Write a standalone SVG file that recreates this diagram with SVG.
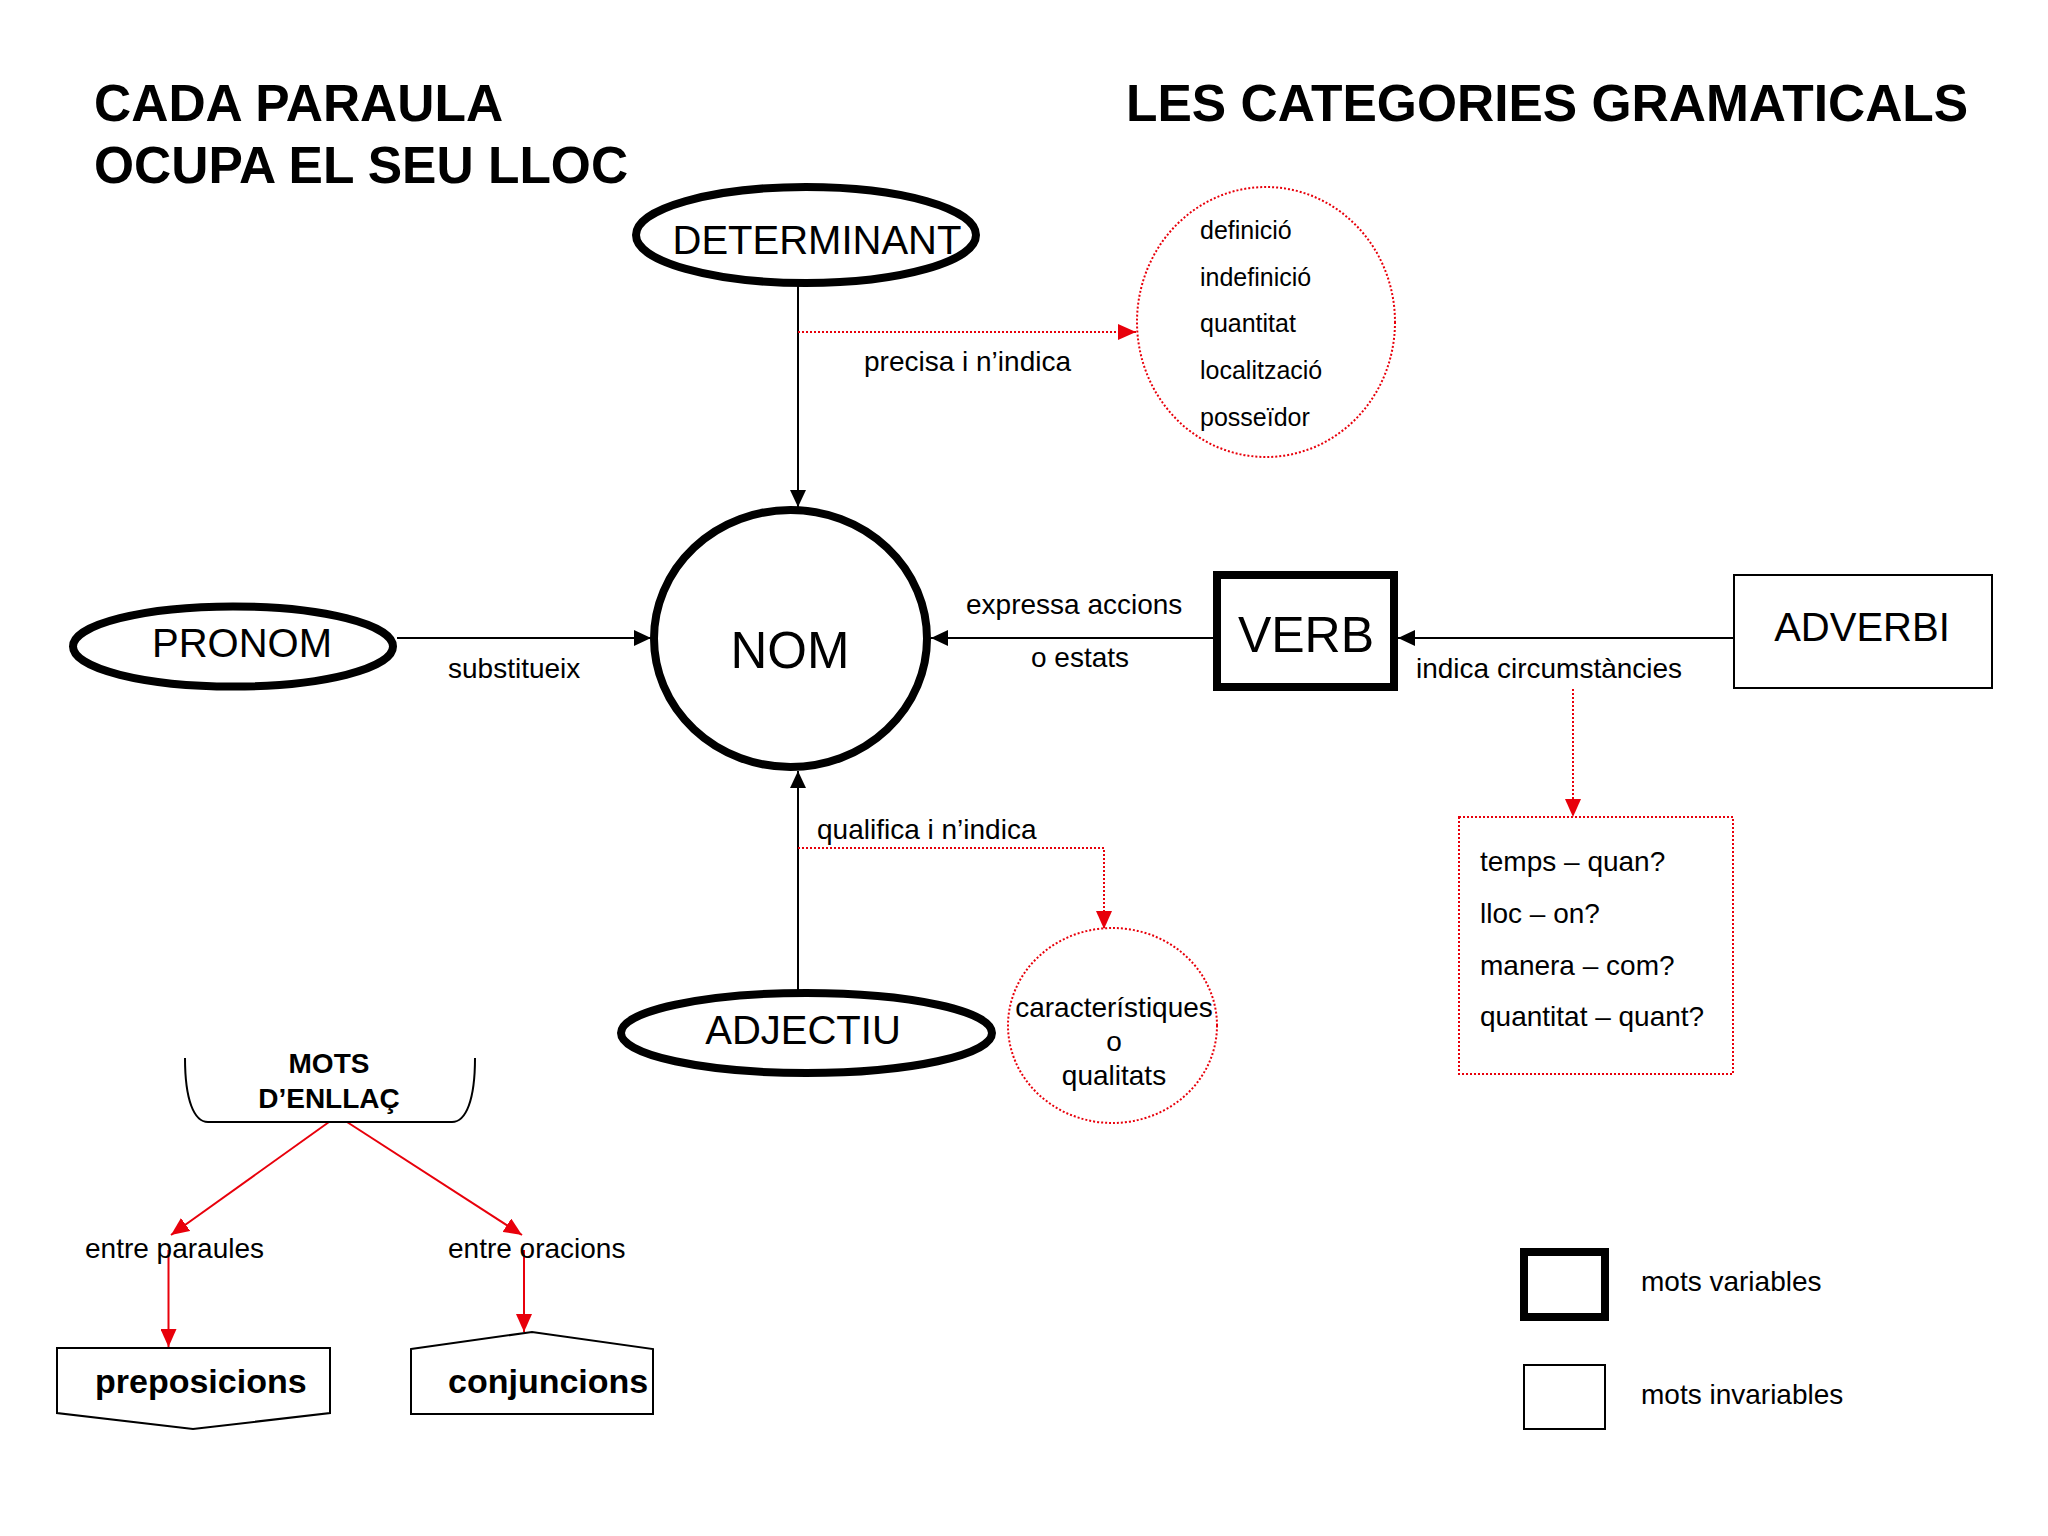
<svg xmlns="http://www.w3.org/2000/svg" width="2048" height="1536" viewBox="0 0 2048 1536">
<style>
text{font-family:"Liberation Sans",Arial,sans-serif;fill:#000}
.title{font-size:51.5px;font-weight:bold}
.node{font-size:40px}
.lbl{font-size:28px}
.lst{font-size:25px}
.bold{font-weight:bold}
.thick{fill:#fff;stroke:#000;stroke-width:8}
.thin{fill:#fff;stroke:#000;stroke-width:2}
.conn{fill:none;stroke:#000;stroke-width:2}
.red{fill:none;stroke:#e8000b;stroke-width:2}
.dot{stroke-dasharray:2 2}
</style>
<defs>
<marker id="ab" markerUnits="userSpaceOnUse" markerWidth="18" markerHeight="16" refX="17" refY="8" orient="auto"><path d="M0,0 L17,8 L0,16 Z" fill="#000"/></marker>
<marker id="ar" markerUnits="userSpaceOnUse" markerWidth="19" markerHeight="16" refX="18" refY="8" orient="auto"><path d="M0,0 L18,8 L0,16 Z" fill="#e8000b"/></marker>
</defs>
<rect width="2048" height="1536" fill="#fff"/>

<g id="titles">
<text class="title" x="94" y="121">CADA PARAULA</text>
<text class="title" x="94" y="183">OCUPA EL SEU LLOC</text>
<text class="title" x="1126" y="121">LES CATEGORIES GRAMATICALS</text>
</g>

<g id="connectors">
<line class="conn" x1="798" y1="283" x2="798" y2="507" marker-end="url(#ab)"/>
<line class="conn" x1="397" y1="638" x2="651" y2="638" marker-end="url(#ab)"/>
<line class="conn" x1="1213" y1="638" x2="931" y2="638" marker-end="url(#ab)"/>
<line class="conn" x1="1734" y1="638" x2="1398" y2="638" marker-end="url(#ab)"/>
<line class="conn" x1="798" y1="991" x2="798" y2="771" marker-end="url(#ab)"/>
<polyline class="red dot" points="798,332 1136,332" marker-end="url(#ar)"/>
<polyline class="red dot" points="798,848 1104,848 1104,929" marker-end="url(#ar)"/>
<polyline class="red dot" points="1573,689 1573,817" marker-end="url(#ar)"/>
<line class="red" x1="329" y1="1122" x2="171" y2="1235" marker-end="url(#ar)"/>
<line class="red" x1="347" y1="1122" x2="522" y2="1235" marker-end="url(#ar)"/>
<line class="red" x1="168.5" y1="1250" x2="168.5" y2="1347" marker-end="url(#ar)"/>
<line class="red" x1="524" y1="1250" x2="524" y2="1332" marker-end="url(#ar)"/>
<text class="lbl" x="864" y="371">precisa i n’indica</text>
<text class="lbl" x="448" y="678">substitueix</text>
<text class="lbl" x="966" y="614">expressa accions</text>
<text class="lbl" x="1031" y="667">o estats</text>
<text class="lbl" x="1416" y="678">indica circumstàncies</text>
<text class="lbl" x="817" y="839">qualifica i n’indica</text>
<text class="lbl" x="85" y="1258">entre paraules</text>
<text class="lbl" x="448" y="1258">entre oracions</text>
</g>

<g id="determinant">
<ellipse class="thick" cx="806" cy="235" rx="170" ry="48"/>
<text class="node" x="817" y="254" text-anchor="middle">DETERMINANT</text>
</g>

<g id="determinant-list">
<ellipse class="red dot" cx="1266" cy="322" rx="129" ry="135"/>
<text class="lst" x="1200" y="239">definició</text>
<text class="lst" x="1200" y="286">indefinició</text>
<text class="lst" x="1200" y="332">quantitat</text>
<text class="lst" x="1200" y="379">localització</text>
<text class="lst" x="1200" y="426">posseïdor</text>
</g>

<g id="nom">
<ellipse class="thick" cx="790.5" cy="638.5" rx="136.5" ry="128.5"/>
<text x="790" y="668" text-anchor="middle" style="font-size:51px">NOM</text>
</g>

<g id="pronom">
<ellipse class="thick" cx="233" cy="646.5" rx="160" ry="40"/>
<text class="node" x="242" y="657" text-anchor="middle">PRONOM</text>
</g>

<g id="verb">
<rect class="thick" x="1217" y="575" width="177" height="112"/>
<text x="1306" y="652" text-anchor="middle" style="font-size:50px">VERB</text>
</g>

<g id="adverbi">
<rect class="thin" x="1734" y="575" width="258" height="113"/>
<text class="node" x="1862" y="641" text-anchor="middle">ADVERBI</text>
</g>

<g id="circumstancies">
<rect class="red dot" x="1459" y="817" width="274" height="257"/>
<text class="lbl" x="1480" y="871">temps – quan?</text>
<text class="lbl" x="1480" y="923">lloc – on?</text>
<text class="lbl" x="1480" y="975">manera – com?</text>
<text class="lbl" x="1480" y="1026">quantitat – quant?</text>
</g>

<g id="adjectiu">
<ellipse class="thick" cx="806.5" cy="1033" rx="185.5" ry="40"/>
<text class="node" x="803" y="1044" text-anchor="middle">ADJECTIU</text>
</g>

<g id="qualitats">
<ellipse class="red dot" cx="1112.5" cy="1025.5" rx="104.5" ry="97.5"/>
<text class="lbl" x="1114" y="1017" text-anchor="middle">característiques</text>
<text class="lbl" x="1114" y="1051" text-anchor="middle">o</text>
<text class="lbl" x="1114" y="1085" text-anchor="middle">qualitats</text>
</g>

<g id="mots-enllac">
<path class="conn" d="M185,1058 C185,1100 194,1122 208,1122 L452,1122 C466,1122 475,1100 475,1058"/>
<text class="lbl bold" x="329" y="1073" text-anchor="middle">MOTS</text>
<text class="lbl bold" x="329" y="1108" text-anchor="middle">D’ENLLAÇ</text>
</g>

<g id="preposicions">
<polygon class="thin" points="57,1348 330,1348 330,1413 193,1429 57,1413"/>
<text class="bold" x="95" y="1393" style="font-size:34px">preposicions</text>
</g>

<g id="conjuncions">
<polygon class="thin" points="411,1349 532,1332 653,1349 653,1414 411,1414"/>
<text class="bold" x="448" y="1393" style="font-size:34px">conjuncions</text>
</g>

<g id="legend">
<rect class="thick" x="1524" y="1252" width="81" height="65"/>
<text x="1641" y="1291" style="font-size:28px">mots variables</text>
<rect class="thin" x="1524" y="1365" width="81" height="64"/>
<text x="1641" y="1404" style="font-size:28px">mots invariables</text>
</g>
</svg>
